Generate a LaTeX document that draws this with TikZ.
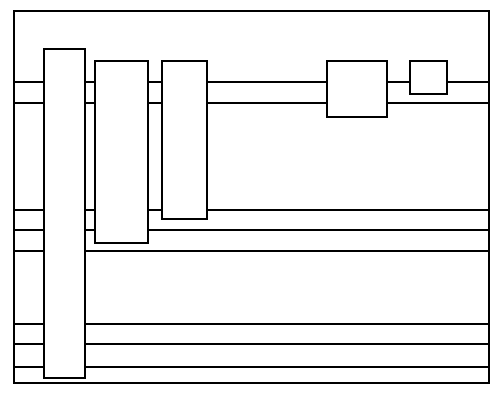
\documentclass[tikz,border=0pt]{standalone}
\begin{document}
\begin{tikzpicture}[x=1pt,y=-1pt,line width=2pt,
  blk/.style={draw,fill=white,inner sep=0pt,outer sep=0pt,anchor=north west,rectangle},
  wire/.style={draw,line width=2pt}]
\useasboundingbox (0,0) rectangle (499,401);
\node[blk,minimum width=475pt,minimum height=372pt,fill=none] (frame) at (14,11) {};
\node[blk,minimum width=41pt,minimum height=329pt] (A) at (44,49) {};
\node[blk,minimum width=53pt,minimum height=182pt] (B) at (95,61) {};
\node[blk,minimum width=45pt,minimum height=158pt] (C) at (162,61) {};
\node[blk,minimum width=60pt,minimum height=56pt] (D) at (327,61) {};
\node[blk,minimum width=37pt,minimum height=33pt] (E) at (410,61) {};
% left frame to A, on every wire row
\foreach \y in {82,103,210,230,251,324,344,367}
  \draw[wire] (frame.west |- 0,\y) -- (A.west |- 0,\y);
% A to B
\foreach \y in {82,103,210,230}
  \draw[wire] (A.east |- 0,\y) -- (B.west |- 0,\y);
% A to right frame
\foreach \y in {251,324,344,367}
  \draw[wire] (A.east |- 0,\y) -- (frame.east |- 0,\y);
% B to C
\foreach \y in {82,103,210}
  \draw[wire] (B.east |- 0,\y) -- (C.west |- 0,\y);
\draw[wire] (B.east |- 0,230) -- (frame.east |- 0,230);
% C to D
\foreach \y in {82,103}
  \draw[wire] (C.east |- 0,\y) -- (D.west |- 0,\y);
\draw[wire] (C.east |- 0,210) -- (frame.east |- 0,210);
% D to E and beyond
\draw[wire] (D.east |- 0,82) -- (E.west |- 0,82);
\draw[wire] (D.east |- 0,103) -- (frame.east |- 0,103);
\draw[wire] (E.east |- 0,82) -- (frame.east |- 0,82);
\end{tikzpicture}
\end{document}
